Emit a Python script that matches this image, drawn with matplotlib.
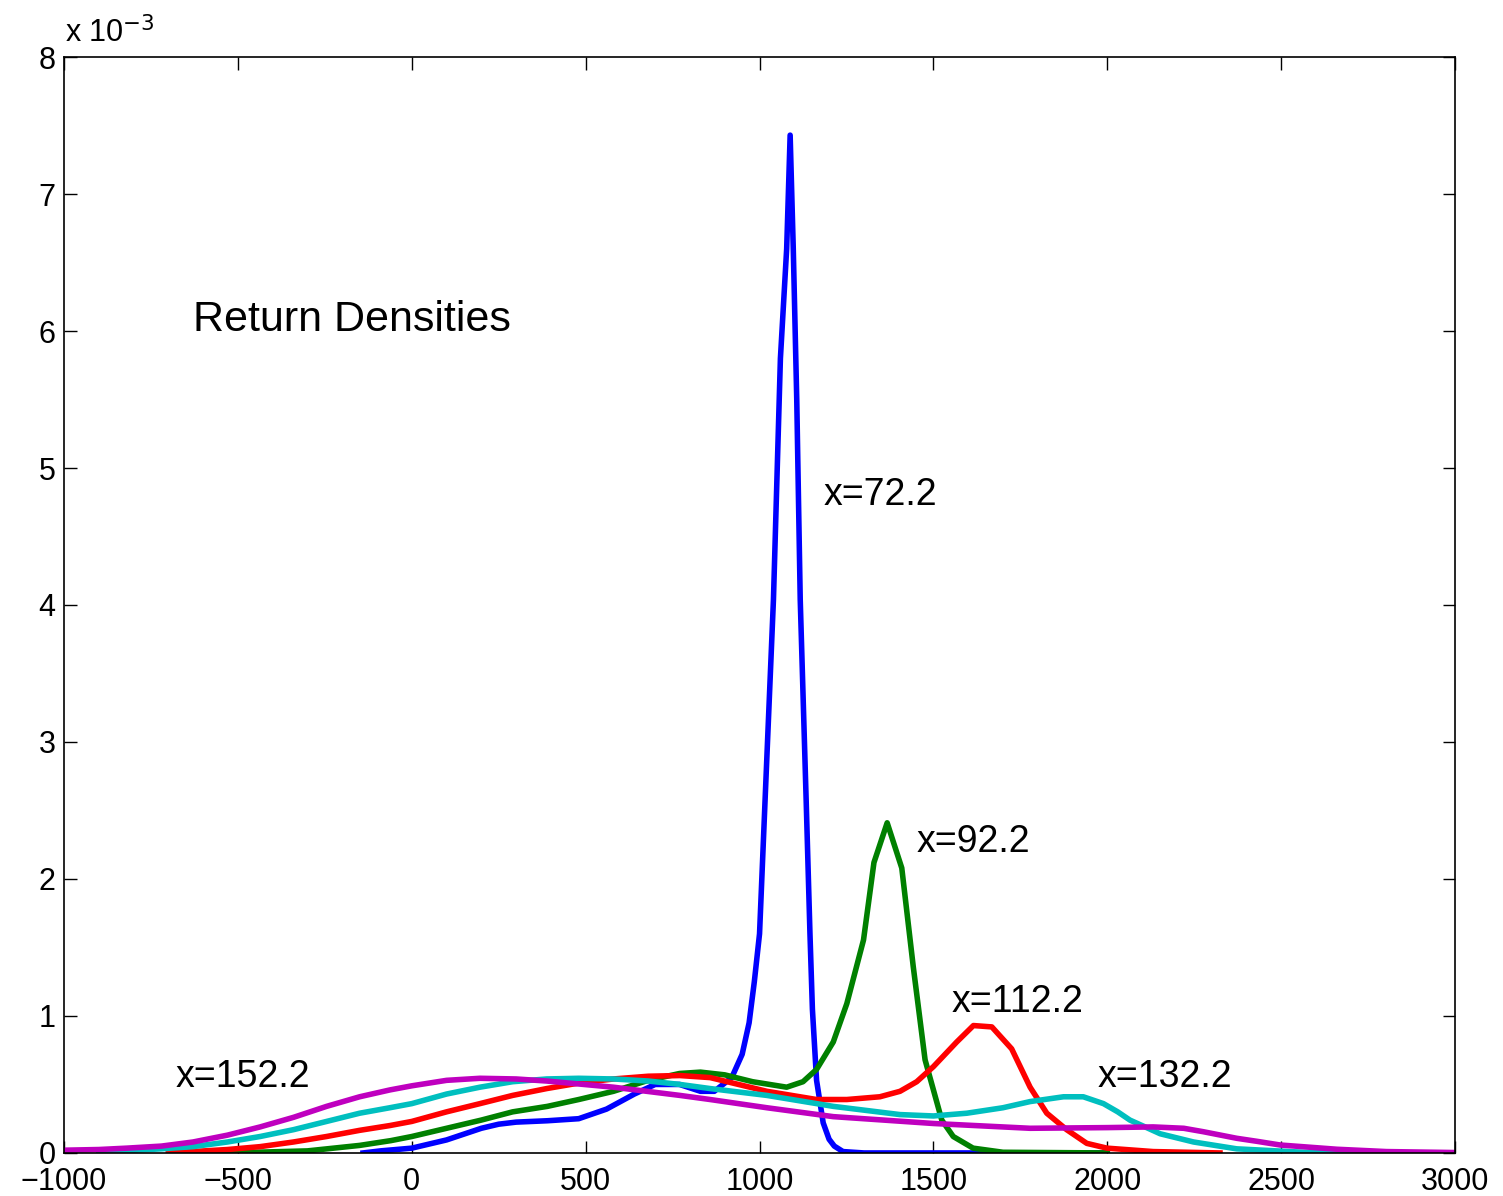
import matplotlib
matplotlib.use("Agg")
import matplotlib.pyplot as plt
from matplotlib.ticker import FuncFormatter
import numpy as np

plt.rcParams['font.family'] = ['Liberation Sans', 'DejaVu Sans']

# densities, y in units of 1e-3
bx = [-140, -90, 0, 100, 200, 250, 300, 390, 480, 560, 640, 700, 770, 830, 870,
      920, 950, 970, 985, 1000, 1016, 1040, 1060, 1078, 1088, 1097, 1107, 1117,
      1134, 1145, 1152, 1164, 1183, 1200, 1215, 1240, 1300, 1500, 2000]
by = [0, 0.015, 0.035, 0.095, 0.18, 0.21, 0.225, 0.235, 0.25, 0.32, 0.43, 0.5,
      0.5, 0.45, 0.45, 0.55, 0.72, 0.95, 1.25, 1.6, 2.58, 4.04, 5.8, 6.6, 7.43,
      6.6, 5.5, 4.04, 2.58, 1.6, 1.05, 0.53, 0.22, 0.1, 0.05, 0.01, 0, 0, 0]

gx = [-600, -450, -300, -150, -60, 0, 100, 200, 290, 390, 480, 580, 680, 770,
      830, 900, 980, 1078, 1125, 1164, 1212, 1251, 1299, 1329, 1367, 1409, 1442,
      1476, 1524, 1557, 1614, 1700, 2000]
gy = [0, 0.005, 0.015, 0.055, 0.09, 0.12, 0.18, 0.24, 0.30, 0.34, 0.39, 0.45,
      0.53, 0.58, 0.59, 0.57, 0.52, 0.48, 0.52, 0.61, 0.81, 1.09, 1.555, 2.12,
      2.41, 2.08, 1.36, 0.68, 0.24, 0.12, 0.035, 0.005, 0]

rx = [-700, -630, -530, -436, -340, -245, -150, -63, 0, 100, 196, 290, 388, 480,
      580, 680, 771, 858, 1021, 1164, 1251, 1346, 1404, 1452, 1500, 1567, 1615,
      1668, 1725, 1778, 1826, 1883, 1941, 1999, 2132, 2324]
ry = [0, 0.01, 0.025, 0.046, 0.08, 0.12, 0.165, 0.2, 0.23, 0.3, 0.36, 0.42,
      0.47, 0.51, 0.54, 0.56, 0.565, 0.55, 0.45, 0.39, 0.39, 0.41, 0.45, 0.52,
      0.63, 0.81, 0.93, 0.92, 0.76, 0.48, 0.29, 0.17, 0.07, 0.035, 0.01, 0]

cx = [-900, -820, -720, -629, -530, -436, -340, -245, -150, -63, 0, 100, 196,
      290, 388, 480, 580, 680, 771, 858, 1021, 1212, 1404, 1500, 1596, 1700,
      1778, 1874, 1931, 1989, 2030, 2065, 2100, 2152, 2248, 2372, 2563, 2800]
cy = [0, 0.017, 0.03, 0.046, 0.08, 0.12, 0.17, 0.23, 0.29, 0.33, 0.36, 0.43,
      0.48, 0.52, 0.54, 0.545, 0.54, 0.525, 0.50, 0.47, 0.42, 0.34, 0.28, 0.27,
      0.29, 0.33, 0.375, 0.41, 0.41, 0.36, 0.30, 0.24, 0.2, 0.14, 0.08, 0.03,
      0.005, 0]

mx = [-1000, -900, -820, -720, -629, -530, -436, -340, -245, -150, -63, 0, 100,
      196, 300, 388, 580, 771, 858, 1021, 1212, 1500, 1778, 2000, 2132, 2220,
      2276, 2372, 2430, 2497, 2660, 2803, 3000]
my = [0.02, 0.025, 0.035, 0.05, 0.08, 0.13, 0.19, 0.26, 0.34, 0.41, 0.46, 0.49,
      0.53, 0.545, 0.54, 0.525, 0.48, 0.42, 0.39, 0.33, 0.265, 0.215, 0.18,
      0.185, 0.19, 0.18, 0.155, 0.107, 0.085, 0.058, 0.027, 0.01, 0.003]

labels = ['x=72.2', 'x=92.2', 'x=112.2', 'x=132.2', 'x=152.2']
label_x = [1183, 1453, 1551, 1973, -678]
label_y = [4.80, 2.27, 1.10, 0.555, 0.555]

series = [(bx, by, (0, 0, 1)),
          (gx, gy, (0, 0.5, 0)),
          (rx, ry, (1, 0, 0)),
          (cx, cy, (0, 0.75, 0.75)),
          (mx, my, (0.75, 0, 0.75))]

fig = plt.figure(figsize=(15.03, 11.96), dpi=100)
ax = fig.add_axes([0.0426, 0.036, 0.9255, 0.9163])

for xs, ys, col in series:
    ax.plot(xs, np.array(ys) * 1e-3, color=col, lw=4, solid_joinstyle='round')

for t, x, y in zip(labels, label_x, label_y):
    ax.text(x, y * 1e-3, t, fontsize=27, va='center', ha='left')
ax.text(-629, 6.08e-3, 'Return Densities', fontsize=31, va='center', ha='left')

ax.set_xlim(-1000, 3000)
ax.set_ylim(0, 8e-3)
ax.set_xticks(np.arange(-1000, 3001, 500))
ax.set_yticks(np.arange(0, 8.1, 1) * 1e-3)
ax.yaxis.set_major_formatter(FuncFormatter(lambda v, p: '%g' % round(v * 1e3, 6)))
ax.tick_params(direction='in', length=9, width=1, labelsize=22,
               top=True, right=True)
ax.tick_params(axis='x', pad=10)
ax.tick_params(axis='y', pad=6)
for s in ax.spines.values():
    s.set_linewidth(1.2)
fig.text(0.043, 0.972, r'x 10$^{-3}$', fontsize=22, ha='left', va='center')

plt.savefig('out.png', dpi=100)
